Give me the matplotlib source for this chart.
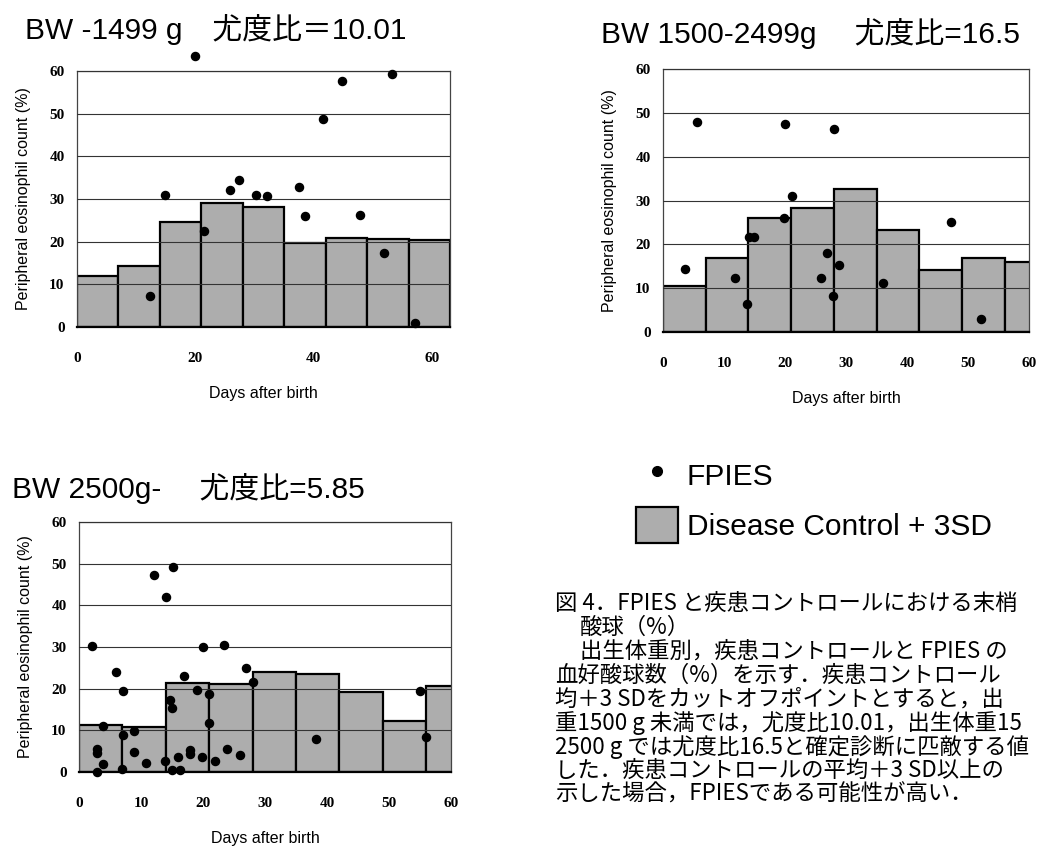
import matplotlib
matplotlib.use("Agg")
import matplotlib.pyplot as plt
from matplotlib.lines import Line2D
from matplotlib.patches import Patch

# control (+3SD) bars, 7-day bins
bin_start = [0, 7, 14, 21, 28, 35, 42, 49, 56]
ctrl_lbw = [12.0, 14.2, 24.5, 29.1, 28.1, 19.8, 20.8, 20.6, 20.3]
ctrl_mbw = [10.4, 16.9, 25.9, 28.4, 32.7, 23.3, 14.2, 16.8, 15.9]
ctrl_nbw = [11.2, 10.8, 21.3, 21.1, 23.9, 23.5, 19.1, 12.3, 20.6]

# FPIES cases
fp_lbw_x = [19.9, 14.9, 21.5, 25.9, 27.3, 30.2, 32.1, 37.5, 38.5, 41.6, 44.8, 47.8, 51.9, 53.2, 57.1, 12.3]
fp_lbw_y = [63.4, 30.9, 22.5, 32.1, 34.4, 30.9, 30.6, 32.9, 25.9, 48.7, 57.7, 26.3, 17.3, 59.2, 0.9, 7.2]

fp_mbw_x = [5.5, 3.6, 11.8, 13.8, 14.1, 14.9, 19.9, 20.0, 21.1, 25.9, 26.9, 27.8, 28.0, 28.9, 36.0, 47.2, 52.2]
fp_mbw_y = [47.8, 14.3, 12.3, 6.3, 21.6, 21.6, 25.9, 47.5, 31.0, 12.3, 18.1, 8.3, 46.3, 15.2, 11.1, 25.0, 2.9]

fp_nbw_x = [2.1, 6.0, 7.1, 12.1, 14.0, 15.2, 16.9, 20.0, 23.4, 27.0, 28.0, 19.0, 21.0, 14.7, 15.0,
            21.0, 3.9, 7.1, 8.8, 2.9, 2.9, 3.9, 2.9, 7.0, 8.8, 10.8, 13.8, 16.0, 15.0, 16.3,
            17.9, 17.9, 19.9, 21.9, 23.9, 26.0, 38.3, 55.0, 56.0]
fp_nbw_y = [30.2, 24.1, 19.4, 47.2, 42.1, 49.2, 23.0, 29.9, 30.5, 24.9, 21.6, 19.6, 18.7, 17.4, 15.4,
            11.8, 11.0, 8.9, 9.8, 5.6, 4.6, 2.0, 0.0, 0.8, 4.7, 2.2, 2.6, 3.6, 0.6, 0.6,
            5.4, 4.4, 3.6, 2.6, 5.5, 4.0, 8.0, 19.4, 8.4]

titles = ["BW -1499 g\u3000尤度比＝10.01", "BW 1500-2499g\u3000 尤度比=16.5", "BW 2500g-\u3000 尤度比=5.85"]
caption = [
    "図 4．FPIES と疾患コントロールにおける末梢",
    "酸球（%）",
    "出生体重別，疾患コントロールと FPIES の",
    "血好酸球数（%）を示す．疾患コントロール",
    "均＋3 SDをカットオフポイントとすると，出",
    "重1500 g 未満では，尤度比10.01，出生体重15",
    "2500 g では尤度比16.5と確定診断に匹敵する値",
    "した．疾患コントロールの平均＋3 SD以上の",
    "示した場合，FPIESである可能性が高い．",
]

W, H = 1038, 849
SANS = ["Liberation Sans", "Noto Sans CJK JP"]
JP = ["Noto Sans CJK JP", "DejaVu Sans"]
BAR = "#adadad"

fig = plt.figure(figsize=(W / 100, H / 100), dpi=100)


def rect(l, t, r, b):
    return [l / W, 1 - b / H, (r - l) / W, (b - t) / H]


def panel(box, ctrl, px, py, xmax, xticks):
    ax = fig.add_axes(rect(*box))
    ax.bar(bin_start, ctrl, width=7, align="edge", color=BAR,
           edgecolor="black", linewidth=1.6, zorder=1)
    ax.scatter(px, py, s=34, color="black", zorder=4, clip_on=False)
    ax.set_xlim(0, xmax)
    ax.set_ylim(0, 60)
    ax.set_xticks(xticks)
    ax.set_yticks(range(0, 61, 10))
    ax.yaxis.grid(True, color="#333333", linewidth=0.8)
    ax.set_axisbelow(False)
    ax.tick_params(length=0, labelsize=11)
    ax.tick_params(axis="x", pad=18)
    ax.tick_params(axis="y", pad=9)
    for lab in ax.get_xticklabels() + ax.get_yticklabels():
        lab.set_fontfamily("Liberation Serif")
        lab.set_fontweight("bold")
    for s in ax.spines.values():
        s.set_color("#444444")
        s.set_linewidth(0.9)
    ax.spines["bottom"].set_color("black")
    ax.spines["bottom"].set_linewidth(1.6)
    ax.set_ylabel("Peripheral eosinophil count (%)", family=SANS, fontsize=11.5, labelpad=13)
    ax.set_xlabel("Days after birth", family=SANS, fontsize=11.5, labelpad=15)
    return ax


panel((77, 71, 450, 327), ctrl_lbw, fp_lbw_x, fp_lbw_y, 63, [0, 20, 40, 60])
panel((663, 69, 1029, 332), ctrl_mbw, fp_mbw_x, fp_mbw_y, 60, range(0, 61, 10))
panel((79, 522, 451, 772), ctrl_nbw, fp_nbw_x, fp_nbw_y, 60, range(0, 61, 10))

fig.text(25 / W, 1 - 39 / H, titles[0], family=SANS, fontsize=21.5, va="baseline")
fig.text(601 / W, 1 - 43 / H, titles[1], family=SANS, fontsize=21.5, va="baseline")
fig.text(12 / W, 1 - 498 / H, titles[2], family=SANS, fontsize=21.5, va="baseline")

handles = [Line2D([], [], marker="o", linestyle="none", color="black", markersize=7),
           Patch(facecolor=BAR, edgecolor="black", linewidth=1.6)]
fig.legend(handles, ["FPIES", "Disease Control + 3SD"], loc="upper left",
           bbox_to_anchor=(636 / W, 1 - 457 / H), frameon=False,
           prop={"family": SANS, "size": 21.5}, handlelength=1.4, handleheight=1.5,
           handletextpad=0.3, labelspacing=0.45, borderpad=0, borderaxespad=0)

ys = [603, 627, 651, 675, 699, 723, 747, 770, 794]
xs = [555, 580, 580, 555, 555, 555, 555, 555, 555]
for line, x, y in zip(caption, xs, ys):
    fig.text(x / W, 1 - y / H, line, family=JP, fontsize=16.1, va="center")

fig.savefig("out.png", dpi=100)
